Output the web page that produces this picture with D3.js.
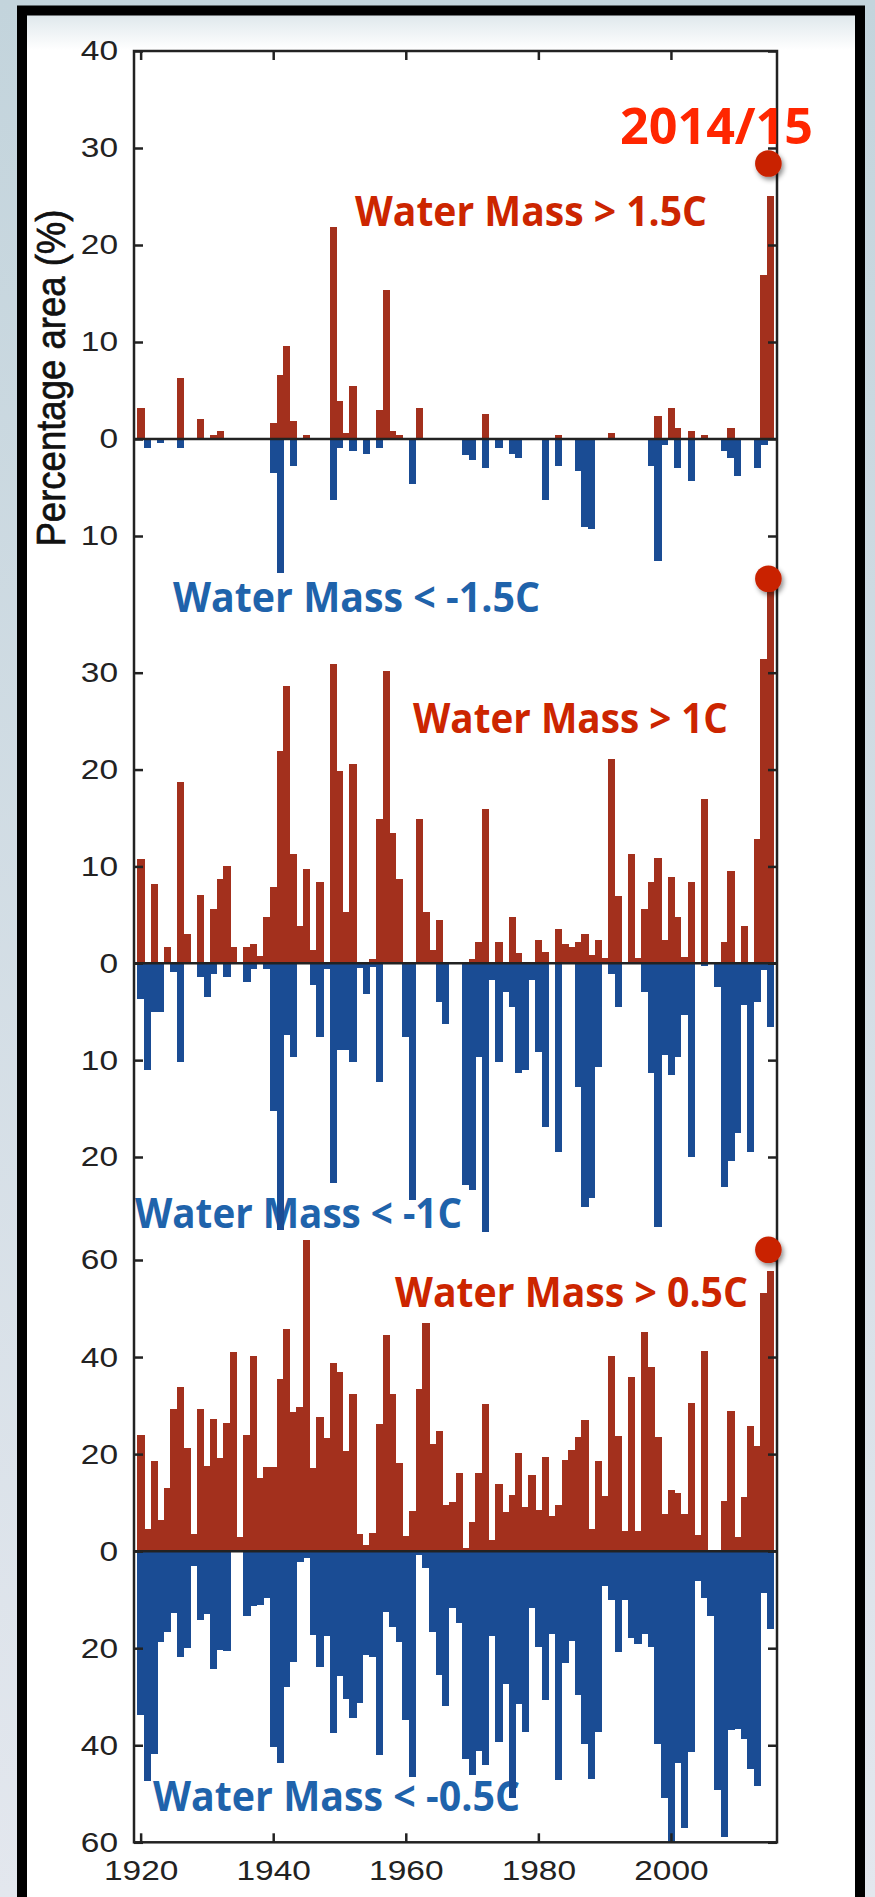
<!DOCTYPE html>
<html>
<head>
<meta charset="utf-8">
<script src="https://cdn.jsdelivr.net/npm/d3@7"></script>
<style>
    html, body { margin: 0; padding: 0; background: #d4dfe5; }
    svg { display: block; }
    .axis text { font-family: "Liberation Sans", Arial, sans-serif; fill: #222; }
    .wm-label { font-family: "Open Sans", "Liberation Sans", sans-serif; font-weight: 700; }
    .warm, .cold { shape-rendering: crispEdges; }
</style>
</head>
<body>
<div id="chart"></div>
<script>
// years 1920 .. 2015 (one bar per year)
const years = d3.range(1920, 2016);

// percentage area warmer / colder than each threshold
const warm15 = [
    3.2, 0, 0, 0, 0, 0, 6.3, 0, 0, 2.1,
    0, 0.4, 0.8, 0, 0, 0, 0, 0, 0, 0,
    1.7, 6.6, 9.6, 1.9, 0, 0.4, 0, 0, 0, 21.9,
    3.9, 0.6, 5.5, 0, 0, 0, 3.0, 15.4, 0.8, 0.4,
    0, 0, 3.2, 0, 0, 0, 0, 0, 0, 0,
    0, 0, 2.6, 0, 0, 0, 0, 0, 0, 0,
    0, 0, 0, 0.4, 0, 0, 0, 0, 0, 0,
    0, 0.6, 0, 0, 0, 0, 0, 0, 2.4, 0,
    3.2, 1.1, 0, 0.8, 0, 0.4, 0, 0, 0, 1.1,
    0, 0, 0, 0, 16.9, 25.1
];
const cold15 = [
    0, 0.9, 0, 0.4, 0, 0, 0.9, 0, 0, 0,
    0, 0, 0, 0, 0, 0, 0, 0, 0, 0,
    3.5, 13.8, 0, 2.8, 0, 0, 0, 0, 0, 6.3,
    0.9, 0, 1.2, 0, 1.5, 0, 0.9, 0, 0, 0,
    0, 4.6, 0, 0, 0, 0, 0, 0, 0, 1.7,
    2.2, 0, 3.0, 0, 0.9, 0, 1.5, 2.0, 0, 0,
    0, 6.3, 0, 2.8, 0, 0, 3.3, 9.1, 9.3, 0,
    0, 0, 0, 0, 0, 0, 0, 2.8, 12.6, 0.6,
    0, 3.0, 0, 4.3, 0, 0, 0, 0, 1.2, 2.0,
    3.8, 0, 0, 3.0, 0.6, 0
];
const warm10 = [
    10.8, 0, 8.2, 0, 1.7, 0, 18.7, 3.0, 0, 7.1,
    0, 5.6, 8.7, 10.0, 1.7, 0, 1.7, 2.0, 0.7, 4.8,
    7.9, 21.9, 28.6, 11.3, 3.8, 9.7, 1.4, 8.4, 0, 30.9,
    19.8, 5.3, 20.6, 0, 0, 0.4, 14.9, 30.2, 13.4, 8.7,
    0, 0, 14.9, 5.3, 1.4, 4.5, 0, 0, 0, 0,
    0.4, 2.2, 15.9, 0, 2.2, 0, 4.8, 1.1, 0, 0,
    2.4, 1.2, 0, 3.5, 2.0, 1.7, 2.2, 3.0, 0.9, 2.4,
    0.5, 21.1, 6.9, 0, 11.3, 0.5, 5.6, 8.4, 10.9, 2.4,
    8.9, 4.8, 0.6, 8.4, 0, 17.0, 0, 0, 2.2, 9.5,
    0, 3.8, 0, 12.8, 31.4, 39.5
];
const cold10 = [
    3.7, 11.0, 5.0, 5.0, 0, 0.9, 10.2, 0, 0, 1.4,
    3.5, 1.1, 0, 1.4, 0, 0, 1.9, 0.6, 0, 0.6,
    15.2, 27.5, 7.4, 9.7, 0, 0, 2.2, 7.6, 0.6, 22.7,
    9.0, 9.0, 10.2, 0.5, 3.2, 0.4, 12.3, 0, 0, 0,
    7.6, 24.4, 0, 0, 0, 4.0, 6.3, 0, 0, 22.9,
    23.4, 9.7, 27.7, 1.7, 10.2, 3.0, 4.5, 11.3, 11.0, 1.7,
    9.2, 16.9, 0, 19.5, 0, 0, 12.8, 25.2, 24.2, 10.7,
    0, 1.1, 4.5, 0, 0, 0, 3.0, 11.3, 27.2, 9.5,
    11.5, 9.7, 5.3, 20.0, 0, 0.3, 0, 2.5, 23.1, 20.4,
    17.5, 4.3, 19.5, 4.0, 0.7, 6.6
];
const warm05 = [
    24.0, 4.6, 18.5, 6.4, 13.0, 29.2, 33.9, 21.2, 3.6, 29.2,
    17.6, 27.2, 19.2, 26.4, 41.1, 2.9, 24.0, 40.3, 15.0, 17.3,
    17.3, 35.4, 45.8, 28.7, 29.8, 64.2, 17.1, 27.7, 23.4, 38.8,
    37.0, 20.7, 32.3, 3.6, 1.3, 3.8, 26.2, 44.5, 32.3, 18.1,
    3.2, 8.2, 33.4, 47.1, 22.0, 24.8, 9.6, 10.2, 16.2, 0.7,
    6.1, 16.2, 30.4, 2.3, 13.9, 8.0, 11.5, 20.3, 9.1, 15.7,
    8.5, 19.4, 7.2, 9.5, 18.8, 20.8, 23.5, 27.1, 4.6, 18.6,
    11.3, 40.3, 23.7, 4.1, 35.9, 4.1, 45.2, 37.9, 23.5, 7.7,
    12.6, 11.9, 7.7, 30.6, 3.3, 41.3, 0, 0, 10.3, 28.9,
    2.9, 11.1, 25.8, 21.7, 53.3, 57.7
];
const cold05 = [
    33.8, 47.4, 41.9, 18.8, 16.6, 12.8, 21.9, 20.0, 3.1, 14.2,
    13.0, 24.3, 20.3, 20.5, 0, 0, 13.4, 11.4, 11.2, 9.7,
    40.3, 43.7, 28.0, 22.9, 2.3, 1.4, 17.2, 23.9, 17.5, 37.4,
    25.8, 30.5, 34.3, 31.2, 21.4, 21.9, 42.1, 12.5, 15.6, 18.8,
    34.8, 46.5, 0.8, 3.4, 16.6, 25.5, 31.9, 11.7, 14.8, 42.9,
    46.2, 41.2, 44.1, 17.4, 39.4, 27.3, 50.8, 31.5, 37.2, 11.7,
    19.8, 30.7, 17.0, 47.2, 23.1, 18.5, 29.7, 39.8, 47.0, 37.2,
    7.1, 10.0, 20.8, 10.0, 18.0, 19.2, 17.0, 19.8, 39.7, 50.9,
    60.0, 43.7, 57.0, 41.3, 6.1, 9.7, 13.3, 49.3, 58.9, 36.9,
    36.6, 38.7, 44.8, 48.3, 8.6, 16.1
];

// highlighted 2014/15 values (red dots), one per panel
const highlightYear = 2014.7;
const highlightValues = [28.4, 39.7, 62.1];

// tick values per panel (negative = colder side, labelled without sign)
const ticks15 = [40, 30, 20, 10, 0, -10];
const ticks10 = [30, 20, 10, 0, -10, -20];
const ticks05 = [60, 40, 20, 0, -20, -40, -60];
const yearTicks = [1920, 1940, 1960, 1980, 2000];

const warmLabels = ["Water Mass > 1.5C", "Water Mass > 1C", "Water Mass > 0.5C"];
const coldLabels = ["Water Mass < -1.5C", "Water Mass < -1C", "Water Mass < -0.5C"];
const yTitle = "Percentage area (%)";
const highlightText = "2014/15";

const WARM = "#a3301d", COLD = "#1a4c94";
const WARM_TXT = "#cc2500", COLD_TXT = "#1f63ab";

const W = 875, H = 1897;
const plot = {left: 134, right: 777, top: 51, bottom: 1842.3};

// layout of the three stacked panels (value domain -> pixel range)
const panels = [
    {warm: warm15, cold: cold15, ticks: ticks15, domain: [-10, 40], range: [536, 51],
     warmLabel: {x: 355, y: 226, len: 352}, coldLabel: {x: 173, y: 612, len: 367}},
    {warm: warm10, cold: cold10, ticks: ticks10, domain: [-20, 30], range: [1157, 672.7],
     warmLabel: {x: 413, y: 733, len: 315}, coldLabel: {x: 135, y: 1228, len: 327}},
    {warm: warm05, cold: cold05, ticks: ticks05, domain: [-60, 60], range: [1842.3, 1260],
     warmLabel: {x: 395, y: 1307, len: 353}, coldLabel: {x: 153, y: 1811, len: 367}}
];

const svg = d3.select('#chart').append('svg')
    .attr('width', W)
    .attr('height', H);

const defs = svg.append('defs');
const bgGrad = defs.append('linearGradient').attr('id', 'bg').attr('x1', 0).attr('x2', 0).attr('y1', 0).attr('y2', 1);
bgGrad.append('stop').attr('offset', '0%').attr('stop-color', '#c3d4dc');
bgGrad.append('stop').attr('offset', '100%').attr('stop-color', '#e3e7ee');
const topGrad = defs.append('linearGradient').attr('id', 'topband').attr('x1', 0).attr('x2', 0).attr('y1', 0).attr('y2', 1);
topGrad.append('stop').attr('offset', '0%').attr('stop-color', '#dfe8ec');
topGrad.append('stop').attr('offset', '100%').attr('stop-color', '#ffffff');
defs.append('filter').attr('id', 'shadow').attr('x', '-50%').attr('y', '-50%').attr('width', '200%').attr('height', '200%')
    .append('feDropShadow')
    .attr('dx', 2).attr('dy', 3).attr('stdDeviation', 2.5)
    .attr('flood-color', '#000').attr('flood-opacity', 0.45);

// slide background and frame
svg.append('rect').attr('width', W).attr('height', H).attr('fill', 'url(#bg)');
svg.append('rect').attr('x', 27).attr('y', 15).attr('width', 828).attr('height', H).attr('fill', '#fff');
svg.append('rect').attr('x', 27).attr('y', 15).attr('width', 828).attr('height', 35).attr('fill', 'url(#topband)');
svg.append('rect').attr('x', 22).attr('y', 10.5).attr('width', 838).attr('height', H + 20)
    .attr('fill', 'none').attr('stroke', '#000').attr('stroke-width', 10);

const x = d3.scaleLinear()
    .domain([1919, 2016])
    .range([plot.left, plot.right]);

const chart = svg.append('g');
const labelLayer = chart.append('g');
const barLayer = chart.append('g');
const axisLayer = chart.append('g');
const topLayer = chart.append('g');

const fmtAbs = d => Math.abs(d);
const stretch = 18.6; // horizontally wide digits of the original

panels.forEach((p, i) => {
    const y = d3.scaleLinear().domain(p.domain).range(p.range);
    const rows = years.map((yr, k) => ({year: yr, warm: p.warm[k], cold: p.cold[k]}));

    // threshold labels (drawn under the bars, as in the original)
    labelLayer.append('text')
        .attr('class', 'wm-label')
        .attr('x', p.warmLabel.x).attr('y', p.warmLabel.y)
        .attr('font-size', 42)
        .attr('textLength', p.warmLabel.len).attr('lengthAdjust', 'spacingAndGlyphs')
        .attr('fill', WARM_TXT)
        .text(warmLabels[i]);
    labelLayer.append('text')
        .attr('class', 'wm-label')
        .attr('x', p.coldLabel.x).attr('y', p.coldLabel.y)
        .attr('font-size', 42)
        .attr('textLength', p.coldLabel.len).attr('lengthAdjust', 'spacingAndGlyphs')
        .attr('fill', COLD_TXT)
        .text(coldLabels[i]);

    const g = barLayer.append('g');
    g.selectAll('.warm')
        .data(rows.filter(d => d.warm > 0))
        .join('rect')
        .attr('class', 'warm')
        .attr('x', d => x(d.year - 0.5))
        .attr('width', d => x(d.year + 0.5) - x(d.year - 0.5) + 0.6)
        .attr('y', d => y(d.warm))
        .attr('height', d => y(0) - y(d.warm))
        .attr('fill', WARM);
    g.selectAll('.cold')
        .data(rows.filter(d => d.cold > 0))
        .join('rect')
        .attr('class', 'cold')
        .attr('x', d => x(d.year - 0.5))
        .attr('width', d => x(d.year + 0.5) - x(d.year - 0.5) + 0.6)
        .attr('y', y(0))
        .attr('height', d => y(-d.cold) - y(0))
        .attr('fill', COLD);

    // zero line
    axisLayer.append('line')
        .attr('x1', plot.left).attr('x2', plot.right)
        .attr('y1', y(0)).attr('y2', y(0))
        .attr('stroke', '#222').attr('stroke-width', 2.5);

    const left = axisLayer.append('g')
        .attr('class', 'axis')
        .attr('transform', `translate(${plot.left},0)`)
        .call(d3.axisLeft(y).tickValues(p.ticks).tickFormat(fmtAbs).tickSize(-9).tickPadding(16));
    left.select('.domain').remove();
    left.selectAll('line').attr('stroke', '#222').attr('stroke-width', 2.5);
    left.selectAll('text')
        .attr('font-size', 28)
        .attr('textLength', d => String(fmtAbs(d)).length * stretch)
        .attr('lengthAdjust', 'spacingAndGlyphs');

    const right = axisLayer.append('g')
        .attr('class', 'axis')
        .attr('transform', `translate(${plot.right},0)`)
        .call(d3.axisRight(y).tickValues(p.ticks).tickFormat('').tickSize(-9));
    right.select('.domain').remove();
    right.selectAll('line').attr('stroke', '#222').attr('stroke-width', 2.5);

    // 2014/15 marker
    topLayer.append('circle')
        .attr('cx', x(highlightYear))
        .attr('cy', y(highlightValues[i]))
        .attr('r', 13.3)
        .attr('fill', '#c92200')
        .attr('filter', 'url(#shadow)');
});

// frame
axisLayer.append('rect')
    .attr('x', plot.left).attr('y', plot.top)
    .attr('width', plot.right - plot.left).attr('height', plot.bottom - plot.top)
    .attr('fill', 'none').attr('stroke', '#222').attr('stroke-width', 2.5);

const bottomAxis = axisLayer.append('g')
    .attr('class', 'axis')
    .attr('transform', `translate(0,${plot.bottom})`)
    .call(d3.axisBottom(x).tickValues(yearTicks).tickFormat(d3.format('d')).tickSize(-9).tickPadding(18));
bottomAxis.select('.domain').remove();
bottomAxis.selectAll('line').attr('stroke', '#222').attr('stroke-width', 2.5);
bottomAxis.selectAll('text')
    .attr('font-size', 28)
    .attr('textLength', 4 * stretch)
    .attr('lengthAdjust', 'spacingAndGlyphs');

const topAxis = axisLayer.append('g')
    .attr('class', 'axis')
    .attr('transform', `translate(0,${plot.top})`)
    .call(d3.axisTop(x).tickValues(yearTicks).tickFormat('').tickSize(-9));
topAxis.select('.domain').remove();
topAxis.selectAll('line').attr('stroke', '#222').attr('stroke-width', 2.5);

// y title
topLayer.append('text')
    .attr('transform', 'translate(65,378) rotate(-90)')
    .attr('text-anchor', 'middle')
    .attr('font-family', '"Liberation Sans", Arial, sans-serif')
    .attr('font-size', 41)
    .attr('textLength', 337).attr('lengthAdjust', 'spacingAndGlyphs')
    .attr('fill', '#111')
    .attr('stroke', '#111').attr('stroke-width', 0.7)
    .text(yTitle);

topLayer.append('text')
    .attr('class', 'wm-label')
    .attr('x', 620).attr('y', 143.5)
    .attr('font-size', 50)
    .attr('textLength', 193).attr('lengthAdjust', 'spacingAndGlyphs')
    .attr('fill', '#ff2600')
    .text(highlightText);
</script>
</body>
</html>
